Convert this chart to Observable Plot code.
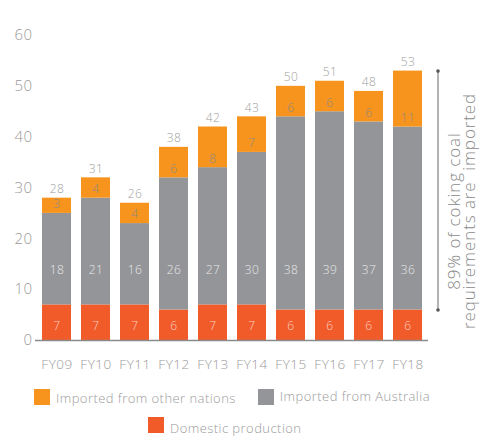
<!DOCTYPE html>
<html>
<head>
<meta charset="utf-8">
<script src="https://cdn.jsdelivr.net/npm/d3@7"></script>
<script src="https://cdn.jsdelivr.net/npm/@observablehq/plot@0.6"></script>
<style>
  html, body { margin: 0; padding: 0; background: #fff; }
  body { width: 490px; height: 439px; overflow: hidden; font-family: "Open Sans", Lato, sans-serif; font-weight: 300; }
  #legend { color: #9a9a9a; font-size: 13px; letter-spacing: 0.45px; }
  .row { display: flex; align-items: center; height: 16px; }
  .item { display: flex; align-items: center; }
  .sw { width: 16px; height: 16px; margin-right: 6px; }
</style>
</head>
<body>
<div id="chart"></div>
<div id="legend"></div>
<script>
const years = ["FY09","FY10","FY11","FY12","FY13","FY14","FY15","FY16","FY17","FY18"];
const domestic  = [7, 7, 7, 6, 7, 7, 6, 6, 6, 6];
const australia = [18, 21, 16, 26, 27, 30, 38, 39, 37, 36];
const others    = [3, 4, 4, 6, 8, 7, 6, 6, 6, 11];
const totals    = [28, 31, 26, 38, 42, 43, 50, 51, 48, 53];
const seriesNames = ["Domestic production", "Imported from Australia", "Imported from other nations"];
const seriesColors = ["#F15A29", "#939598", "#F7941D"];
const yTicks = [0, 10, 20, 30, 40, 50, 60];
const annotation = {from: 6, to: 53, text: "89% of coking coal\nrequirements are  imported"};

const rows = [];
years.forEach((yr, i) => {
  rows.push({year: yr, series: seriesNames[0], value: domestic[i]});
  rows.push({year: yr, series: seriesNames[1], value: australia[i]});
  rows.push({year: yr, series: seriesNames[2], value: others[i]});
});
const tops = years.map((yr, i) => ({year: yr, base: domestic[i] + australia[i], top: domestic[i] + australia[i] + others[i], total: totals[i], d: domestic[i], a: australia[i], o: others[i]}));

const chart = Plot.plot({
  width: 490,
  height: 380,
  marginLeft: 35,
  marginRight: 62,
  marginTop: 35,
  marginBottom: 40,
  style: {fontFamily: "'Open Sans', Lato, sans-serif", fontWeight: 300, color: "#9a9a9a", background: "#fff", letterSpacing: "0.5px"},
  x: {domain: years, paddingInner: 0.26, paddingOuter: 0.13, label: null},
  y: {domain: [0, 60], ticks: yTicks, label: null},
  color: {domain: seriesNames, range: seriesColors},
  marks: [
    Plot.barY(rows, {x: "year", y: "value", fill: "series", order: seriesNames}),
    Plot.ruleY([0], {stroke: "#8a8a8a", strokeWidth: 1.5}),
    Plot.axisY({ticks: yTicks, tickSize: 0, tickPadding: 3, fontSize: 15, fill: "#9a9a9a"}),
    Plot.axisX({tickSize: 0, tickPadding: 19, fontSize: 13.5, fill: "#9a9a9a"}),
    Plot.text(tops, {x: "year", y: 0, text: "d", dy: -14, fill: "#fbd3c4", fontSize: 12}),
    Plot.text(tops, {x: "year", y: 0, text: "a", dy: -70, fill: "#e8e8e8", fontSize: 12}),
    Plot.text(tops, {x: "year", y: "base", text: "o", dy: -9, fill: "#8f8a85", fontSize: 12}),
    Plot.text(tops, {x: "year", y: "top", text: "total", dy: -9, fill: "#a0a0a0", fontSize: 12}),
    Plot.ruleX([annotation], {x: () => "FY18", y1: "from", y2: "to", dx: 30, stroke: "#666", strokeWidth: 1}),
    Plot.dot([annotation.from, annotation.to], {x: () => "FY18", y: d => d, dx: 30, r: 1.8, fill: "#555"}),
    Plot.text([annotation], {frameAnchor: "right", text: "text", rotate: -90, dx: 34, dy: 23, fontSize: 17, fill: "#8a8a8a", lineHeight: 0.9, textAnchor: "middle"})
  ]
});
document.getElementById("chart").appendChild(chart);
// widen the annotation lettering
const textGroups = chart.querySelectorAll('g[aria-label="text"]');
textGroups[textGroups.length - 1].style.letterSpacing = "0.9px";

// legend
const legend = document.getElementById("legend");
const legendRows = [[seriesNames[2], seriesNames[1]], [seriesNames[0]]];
const rowStyles = [{marginLeft: "34px", marginTop: "9px"}, {marginLeft: "148px", marginTop: "12px"}];
const textShift = [[1, -1], [3]];
legendRows.forEach((names, r) => {
  const row = document.createElement("div");
  row.className = "row";
  Object.assign(row.style, rowStyles[r]);
  names.forEach((n, k) => {
    const item = document.createElement("div");
    item.className = "item";
    if (k > 0) item.style.marginLeft = "22px";
    const sw = document.createElement("div");
    sw.className = "sw";
    sw.style.background = seriesColors[seriesNames.indexOf(n)];
    const t = document.createElement("span");
    t.textContent = n;
    t.style.position = "relative";
    t.style.top = textShift[r][k] + "px";
    item.appendChild(sw);
    item.appendChild(t);
    row.appendChild(item);
  });
  legend.appendChild(row);
});
</script>
</body>
</html>
